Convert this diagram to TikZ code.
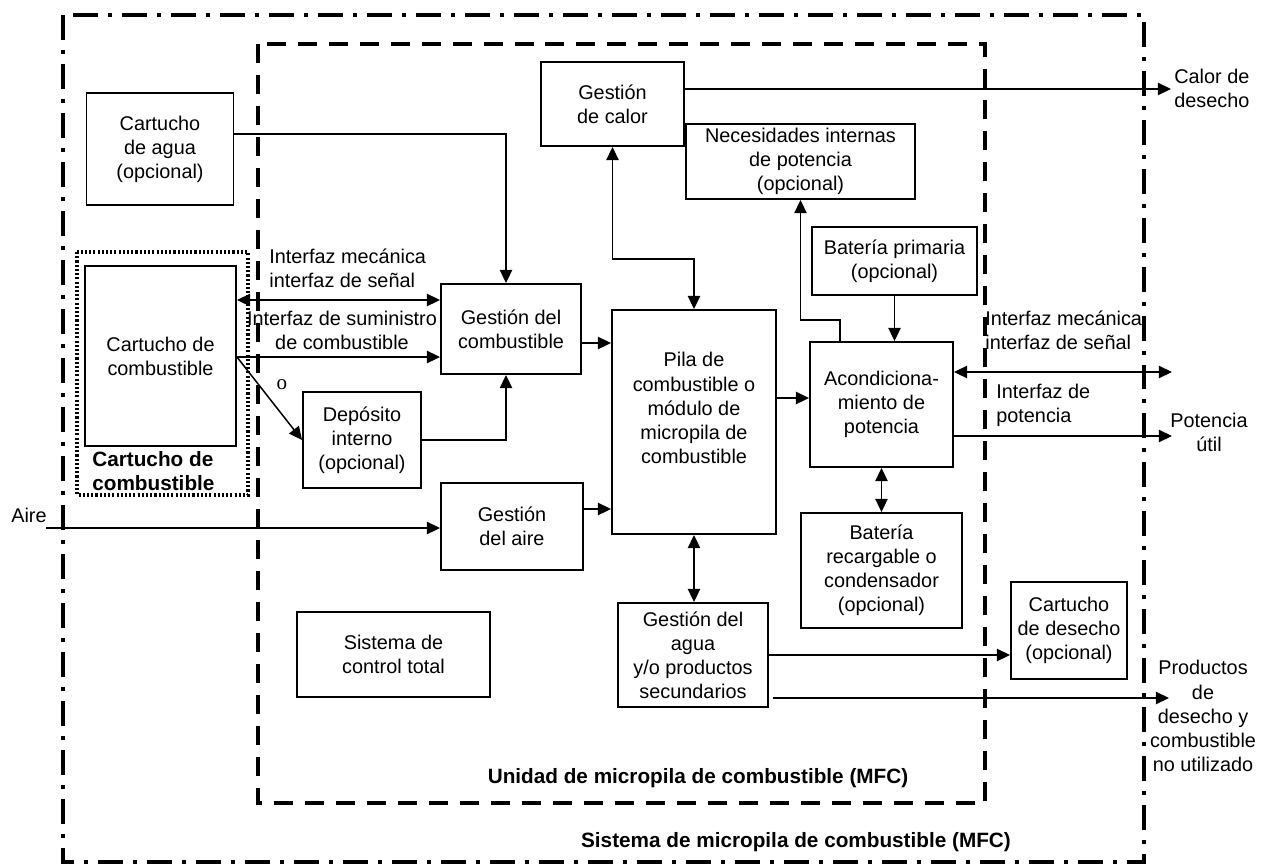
\documentclass[tikz,border=0pt]{standalone}
\usepackage{fontspec}
\setmainfont{Liberation Sans}
\newfontfamily\letrao{Liberation Serif}
\usetikzlibrary{arrows.meta}
\begin{document}
\begin{tikzpicture}[x=0.02cm,y=-0.02cm,
  font=\fontsize{11.3}{13.7}\selectfont,
  caja/.style={draw,line width=1.1pt,align=center,inner sep=0pt},
  flecha/.style={line width=0.85pt,-{Triangle[length=7.5pt,width=7pt]}},
  dflecha/.style={line width=0.85pt,{Triangle[length=7.5pt,width=7pt]}-{Triangle[length=7.5pt,width=7pt]}},
  etiq/.style={inner sep=0pt,align=left},
  negrita/.style={inner sep=0pt,font=\fontsize{11.8}{13.7}\selectfont\bfseries}]
\useasboundingbox (0,0) rectangle (1265,866);

% marcos
\draw[line width=2.8pt,dash pattern=on 0.5cm off 0.2cm on 0.08cm off 0.2cm] (63,15) rectangle (1144,862);
\draw[line width=2.8pt,dash pattern=on 0.38cm off 0.24cm] (258,44) rectangle (985,803);
\draw[line width=2pt,dash pattern=on 1.2pt off 1.2pt] (77,252) rectangle (248,495);

% bloques
\node[caja,minimum width=2.94cm,minimum height=2.24cm] (agua) at (160,149) {Cartucho\\de agua\\(opcional)};
\node[caja,minimum width=3.02cm,minimum height=3.6cm] (comb) at (160.5,356) {Cartucho de\\combustible};
\node[caja,minimum width=2.8cm,minimum height=1.8cm] (gcomb) at (511,329) {Gestión del\\combustible};
\node[caja,minimum width=2.36cm,minimum height=1.92cm] (dep) at (362,440) {Depósito\\interno\\(opcional)};
\node[caja,minimum width=2.84cm,minimum height=1.74cm] (gaire) at (512,526.5) {Gestión\\del aire};
\node[caja,minimum width=3.86cm,minimum height=1.7cm] (control) at (393.5,654.5) {Sistema de\\control total};
\node[caja,minimum width=2.86cm,minimum height=1.68cm] (calor) at (612.5,104) {Gestión\\de calor};
\node[caja,minimum width=3.28cm,minimum height=4.48cm] (pila) at (694,422) {};
\node[align=center,inner sep=0pt] (pilatxt) at (694,408) {Pila de\\combustible o\\módulo de\\micropila de\\combustible};
\node[caja,minimum width=4.58cm,minimum height=1.5cm] (nec) at (800.5,161.5) {Necesidades internas\\de potencia\\(opcional)};
\node[caja,minimum width=3.3cm,minimum height=1.36cm] (batprim) at (894.5,261) {Batería primaria\\(opcional)};
\node[caja,minimum width=2.86cm,minimum height=2.5cm] (acond) at (881.5,404.5) {Acondiciona-\\miento de\\potencia};
\node[caja,minimum width=3.22cm,minimum height=2.3cm] (batrec) at (881.5,570.5) {Batería\\recargable o\\condensador\\(opcional)};
\node[caja,minimum width=3.0cm,minimum height=2.08cm] (gagua) at (693,655) {Gestión del\\agua\\y/o productos\\secundarios};
\node[caja,minimum width=2.32cm,minimum height=1.94cm] (desecho) at (1069,630.5) {Cartucho\\de desecho\\(opcional)};

% conexiones
\draw[flecha] (agua.east |- 0,134) -| ([xshift=-0.1cm]gcomb.north);
\draw[dflecha] (comb.east |- 0,300) -- (gcomb.west |- 0,300);
\draw[flecha] (comb.east |- 0,357) -- (gcomb.west |- 0,357);
\draw[flecha] (comb.east |- 0,357) -- (dep.west);
\draw[flecha] (dep.east) -| ([xshift=-0.1cm]gcomb.south);
\draw[flecha] (gcomb.east |- 0,343) -- (pila.west |- 0,343);
\draw[flecha] (gaire.east |- 0,509) -- (pila.west |- 0,509);
\coordinate (aire) at (46,528);
\draw[flecha] (aire) -- (gaire.west |- aire);
\draw[dflecha] (calor.south) -- (calor.south |- 0,259) -| (pila.north);
\coordinate (calorout) at (1171,89);
\draw[flecha] (calor.east |- calorout) -- (calorout);
\draw[flecha] ([xshift=-0.83cm]acond.north) -- ++(0,-21) -| (nec.south);
\draw[flecha] (batprim) -- (batprim |- acond.north);
\draw[flecha] (pila.east |- 0,398) -- (acond.west |- 0,398);
\coordinate (mecout) at (1172,372);
\draw[dflecha] (acond.east |- mecout) -- (mecout);
\coordinate (potout) at (1172,436);
\draw[flecha] (acond.east |- potout) -- (potout);
\draw[dflecha] (acond) -- (batrec);
\draw[dflecha] (pila.south) -- (pila.south |- gagua.north);
\draw[flecha] (gagua.east |- 0,655) -- (desecho.west |- 0,655);
\coordinate (prodout) at (1169,698);
\draw[flecha,shorten <=0.08cm] (gagua.east |- prodout) -- (prodout);

% textos
\node[anchor=base east,inner sep=0pt] (airetxt) at (47,522) {Aire};
\node[etiq,anchor=west] (mecizq) at (269,268) {Interfaz mecánica\\interfaz de señal};
\node[etiq,align=center] (sumin) at (342,330) {Interfaz de suministro\\de combustible};
\node[inner sep=0pt,font=\letrao\fontsize{12}{14}\selectfont] (otxt) at (282,385) {o};
\node[etiq,anchor=west] (mecder) at (985,330) {Interfaz mecánica\\interfaz de señal};
\node[etiq,anchor=west] (pottxt) at (996,405) {Interfaz de\\potencia};
\node[etiq,anchor=west] (calortxt) at (1174,88) {Calor de\\desecho};
\node[etiq,align=center] (utiltxt) at (1209,432) {Potencia\\útil};
\node[etiq,align=center] (prodtxt) at (1203,716) {Productos\\de\\desecho y\\combustible\\no utilizado};
\node[negrita,anchor=west,align=left] (cartlbl) at (92,471) {Cartucho de\\combustible};
\node[negrita] (unidad) at (698,778) {Unidad de micropila de combustible (MFC)};
\node[negrita] (sistema) at (796,842) {Sistema de micropila de combustible (MFC)};
\end{tikzpicture}
\end{document}
